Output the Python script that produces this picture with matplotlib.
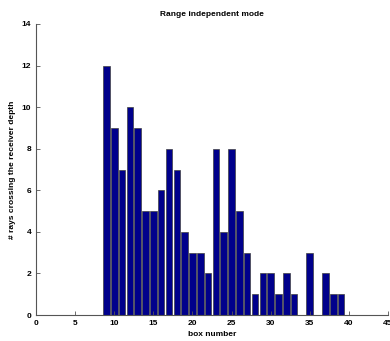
import matplotlib
matplotlib.use("Agg")
import matplotlib.pyplot as plt

plt.rcParams['font.family'] = ['Liberation Sans', 'DejaVu Sans']

boxes = list(range(9, 40))
counts = [12, 9, 7, 10, 9, 5, 5, 6, 8, 7, 4, 3, 3, 2, 8, 4, 8, 5, 3, 1,
          2, 2, 1, 2, 1, 0, 3, 0, 2, 1, 1]
xticks = [0, 5, 10, 15, 20, 25, 30, 35, 40, 45]
yticks = [0, 2, 4, 6, 8, 10, 12, 14]

fig = plt.figure(figsize=(3.90, 3.41), dpi=100)
ax = fig.add_axes([36/390, 26/341, 352/390, 291/341])

ax.bar(boxes, counts, width=0.84, color='#00008B', edgecolor='#404040', linewidth=0.5)

ax.set_xlim(0, 45)
ax.set_ylim(0, 14)
ax.set_xticks(xticks)
ax.set_yticks(yticks)
ax.tick_params(direction='in', length=3, width=0.6, colors='#555555', labelcolor='black',
               labelsize=6)
for lab in ax.get_xticklabels() + ax.get_yticklabels():
    lab.set_fontweight('bold')
for s in ['top', 'right']:
    ax.spines[s].set_visible(False)
for s in ['left', 'bottom']:
    ax.spines[s].set_color('#555555')
    ax.spines[s].set_linewidth(0.8)

ax.set_title('Range independent mode', fontsize=6, fontweight='bold', pad=6)
ax.set_xlabel('box number', fontsize=6, fontweight='bold', labelpad=3)
ax.set_ylabel('# rays crossing the receiver depth', fontsize=6, fontweight='bold', labelpad=4)

fig.savefig('out.png', dpi=100)
